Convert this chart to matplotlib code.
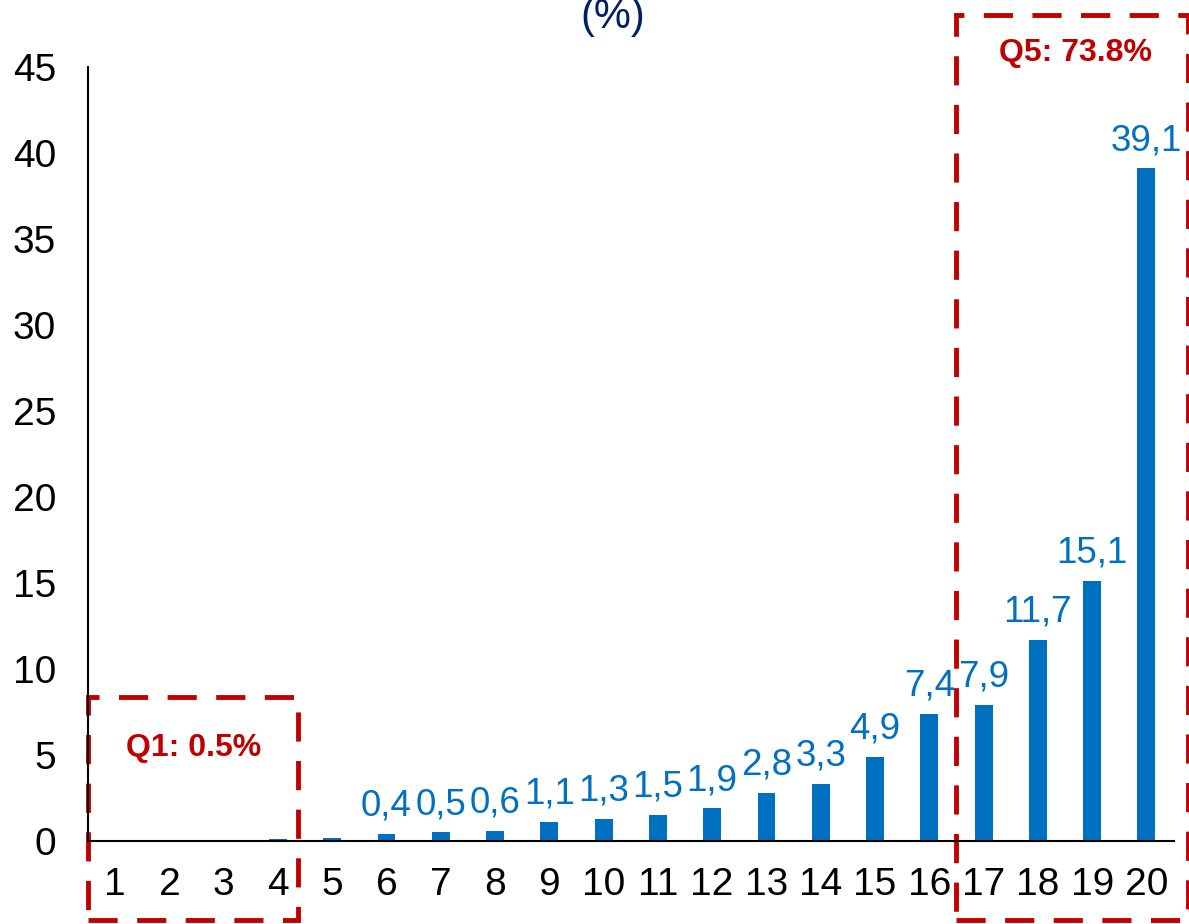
import matplotlib
matplotlib.use('Agg')
import matplotlib.pyplot as plt
from matplotlib.patches import Rectangle
import numpy as np

plt.rcParams['font.family'] = ['Liberation Sans', 'DejaVu Sans']

# vigintiles 1..20, share in %
groups = list(range(1, 21))
shares = [0.0, 0.0, 0.05, 0.12, 0.15, 0.4, 0.5, 0.6, 1.1, 1.3,
          1.5, 1.9, 2.8, 3.3, 4.9, 7.4, 7.9, 11.7, 15.1, 39.1]
labels = ['', '', '', '', '', '0,4', '0,5', '0,6', '1,1', '1,3',
          '1,5', '1,9', '2,8', '3,3', '4,9', '7,4', '7,9', '11,7', '15,1', '39,1']
q1_text = 'Q1: 0.5%'
q5_text = 'Q5: 73.8%'

blue = '#0070C0'
red = '#C00000'

fig = plt.figure(figsize=(11.89, 9.24), dpi=100)
ax = fig.add_axes([0.074, 0.0898, 0.913, 0.8377])

ax.bar(groups, shares, width=0.33, color=blue)
for g, v, lab in zip(groups, shares, labels):
    if lab:
        ax.text(g, v + 0.6, lab, ha='center', va='bottom', color=blue, fontsize=26.5)

ax.set_xlim(0.5, 20.5)
ax.set_ylim(0, 45)
ax.set_yticks(np.arange(0, 46, 5))
ax.set_xticks(groups)
ax.tick_params(axis='both', length=0, labelsize=28)
ax.tick_params(axis='y', pad=23)
ax.tick_params(axis='x', pad=19)
for s in ['top', 'right']:
    ax.spines[s].set_visible(False)
for s in ['left', 'bottom']:
    ax.spines[s].set_linewidth(1.5)

# quintile boxes
box1 = Rectangle((0.5, -4.6), 3.87, 13.0, fill=False, ec=red, lw=3.5,
                 ls=(0, (6, 4)), clip_on=False)
box5 = Rectangle((16.5, -4.6), 4.26, 52.6, fill=False, ec=red, lw=3.5,
                 ls=(0, (6, 4)), clip_on=False)
ax.add_patch(box1)
ax.add_patch(box5)
ax.text(2.44, 5.4, q1_text, ha='center', va='center', color=red,
        fontsize=23, fontweight='bold')
ax.text(18.7, 45.8, q5_text, ha='center', va='center', color=red,
        fontsize=23, fontweight='bold', clip_on=False)

fig.text(0.515, 0.97, '(%)', ha='center', va='baseline', color='#002060', fontsize=30)

fig.savefig('out.png', dpi=100)
